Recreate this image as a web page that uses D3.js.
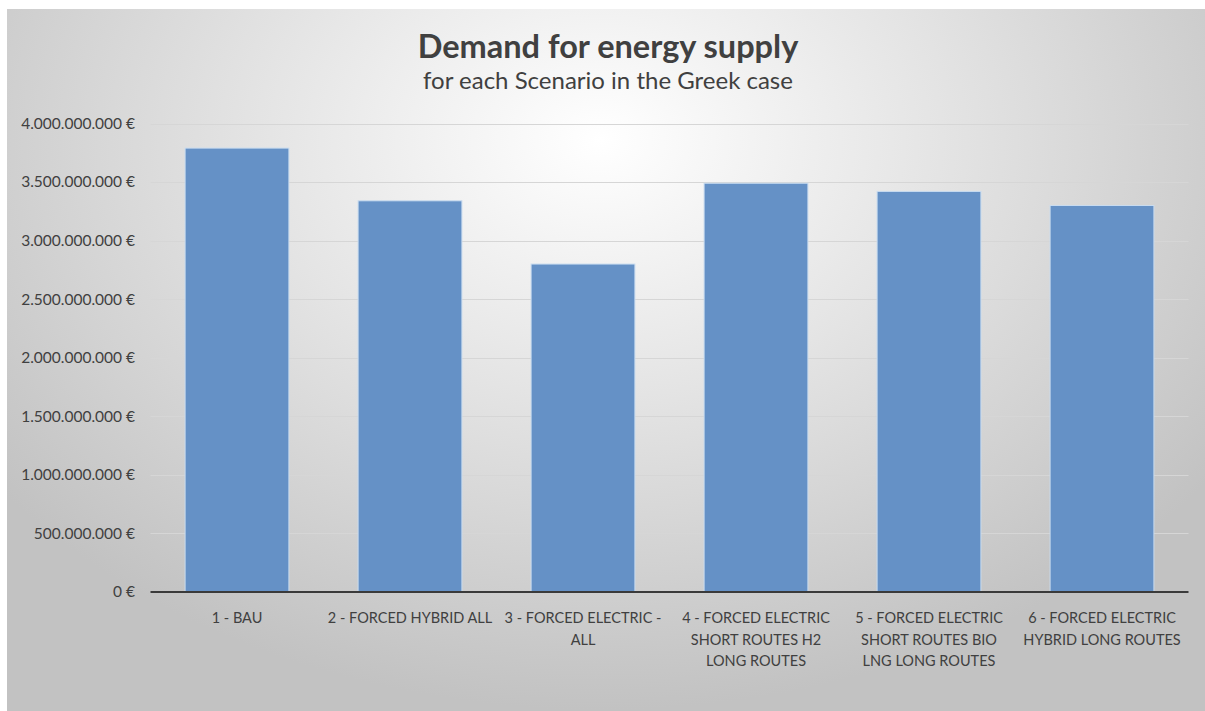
<!DOCTYPE html>
<html><head><meta charset="utf-8">
<script src="https://cdn.jsdelivr.net/npm/d3@7/dist/d3.min.js"></script>
<style>
html,body{margin:0;padding:0;background:#fff;}
svg{display:block;}
text{font-family:Lato,"Open Sans",sans-serif;}
</style></head>
<body><svg id="c" width="1205" height="711"></svg>
<script>
const categories = [
  ["1 - BAU"],
  ["2 - FORCED HYBRID ALL"],
  ["3 - FORCED ELECTRIC -", "ALL"],
  ["4 - FORCED ELECTRIC", "SHORT ROUTES H2", "LONG ROUTES"],
  ["5 - FORCED ELECTRIC", "SHORT ROUTES BIO", "LNG LONG ROUTES"],
  ["6 - FORCED ELECTRIC", "HYBRID LONG ROUTES"]
];
const values = [3790000000, 3340000000, 2800000000, 3490000000, 3420000000, 3300000000];
const yTicks = [0, 500000000, 1000000000, 1500000000, 2000000000, 2500000000, 3000000000, 3500000000, 4000000000];
const title = "Demand for energy supply";
const subtitle = "for each Scenario in the Greek case";

const svg = d3.select("#c");
const defs = svg.append("defs");
const grad = defs.append("radialGradient").attr("id","bg")
  .attr("gradientUnits","userSpaceOnUse")
  .attr("cx",600).attr("cy",140).attr("r",760)
  .attr("gradientTransform","translate(600,140) scale(1,0.75) translate(-600,-140)");
grad.append("stop").attr("offset","0").attr("stop-color","#ffffff");
grad.append("stop").attr("offset","0.45").attr("stop-color","#e4e4e4");
grad.append("stop").attr("offset","1").attr("stop-color","#c2c2c2");

svg.append("rect").attr("x",7).attr("y",9).attr("width",1198).attr("height",702).attr("fill","url(#bg)");

const margin = {left:150.5, right:1188.5, top:123.5, bottom:592};
const x = d3.scaleBand().domain(d3.range(categories.length)).range([margin.left, margin.right]).paddingInner(0.4).paddingOuter(0.2);
const y = d3.scaleLinear().domain([0, 4000000000]).range([margin.bottom, margin.top]);

const fmt = v => d3.format(",")(v).replace(/,/g,".") + " €";

// gridlines
svg.append("g").selectAll("line").data(yTicks.filter(d=>d>0)).join("line")
  .attr("x1",margin.left).attr("x2",margin.right)
  .attr("y1",d=>Math.round(y(d))+0.5).attr("y2",d=>Math.round(y(d))+0.5)
  .attr("stroke","#d6d6d6").attr("stroke-width",1);

// y labels
svg.append("g").selectAll("text").data(yTicks).join("text")
  .attr("x",135).attr("y",d=>y(d)).attr("dy","0.35em")
  .attr("text-anchor","end").attr("font-size",15.5).attr("fill","#404040")
  .text(fmt);

// bars
svg.append("g").selectAll("rect").data(values).join("rect")
  .attr("x",(d,i)=>x(i)).attr("width",x.bandwidth())
  .attr("y",d=>y(d)).attr("height",d=>y(0)-y(d))
  .attr("fill","#6591c6").attr("stroke","#c9dcf0").attr("stroke-width",1);

// axis line
svg.append("line").attr("x1",margin.left).attr("x2",margin.right)
  .attr("y1",y(0)).attr("y2",y(0)).attr("stroke","#3a3a3a").attr("stroke-width",2);

// x labels
const xl = svg.append("g").selectAll("text").data(categories).join("text")
  .attr("text-anchor","middle").attr("font-size",14.5).attr("fill","#404040")
  .attr("transform",(d,i)=>`translate(${x(i)+x.bandwidth()/2},${y(0)+31})`);
xl.selectAll("tspan").data(d=>d).join("tspan")
  .attr("x",0).attr("y",(d,i)=>i*21.5).text(d=>d);

// title
svg.append("text").attr("x",608).attr("y",58).attr("text-anchor","middle")
  .attr("font-size",32.5).attr("font-weight","bold").attr("fill","#404040").text(title);
svg.append("text").attr("x",608).attr("y",89).attr("text-anchor","middle")
  .attr("font-size",24).attr("fill","#404040").text(subtitle);
</script></body></html>
